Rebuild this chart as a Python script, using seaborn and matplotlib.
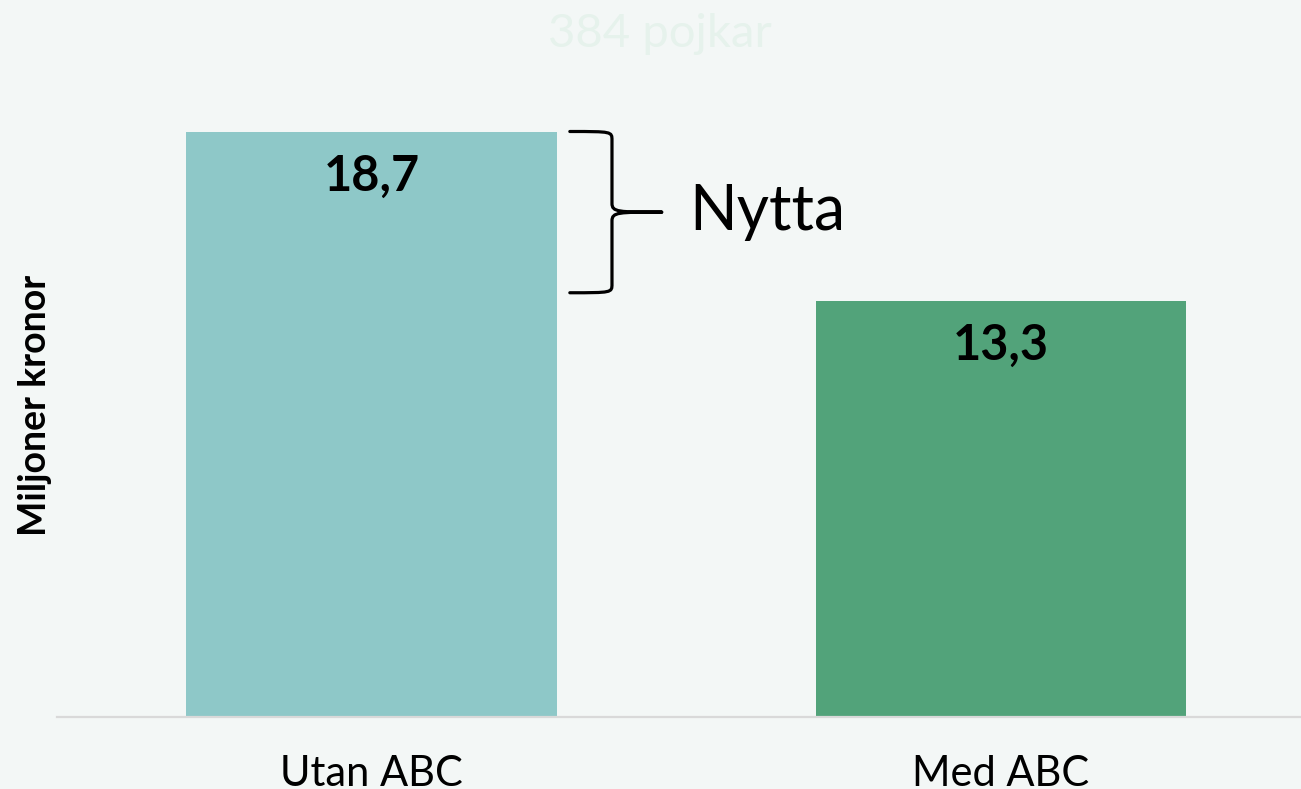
import matplotlib.pyplot as plt
import seaborn as sns
from matplotlib.path import Path
from matplotlib.patches import PathPatch

# data
categories = ['Utan ABC', 'Med ABC']
values = [18.7, 13.3]
value_labels = ['18,7', '13,3']
bar_colors = ['#8ec8c8', '#52a37a']
title_text = '384 pojkar'
brace_text = 'Nytta'
ylabel_text = 'Miljoner kronor'

bg = '#f3f7f6'
sns.set_theme(style='white')
plt.rcParams['font.family'] = ['Lato', 'DejaVu Sans']

fig = plt.figure(figsize=(13.01, 7.89), dpi=100, facecolor=bg)
ax = fig.add_axes([57 / 1301, 72 / 789, 1244 / 1301, 717 / 789])
ax.set_facecolor(bg)

sns.barplot(x=categories, y=values, hue=categories, palette=bar_colors,
            legend=False, width=0.589, saturation=1, linewidth=0, ax=ax)

ax.set_xlim(-0.5, 1.477)
ax.set_ylim(0, 22.9)
ax.set_yticks([])
ax.set_ylabel('')
for s in ['top', 'right', 'left']:
    ax.spines[s].set_visible(False)
ax.spines['bottom'].set_color('#d9d9d9')
ax.spines['bottom'].set_linewidth(1.6)
ax.tick_params(axis='x', length=0, pad=27, labelsize=30, labelcolor='black')

# value labels inside bars
for i, (v, lab) in enumerate(zip(values, value_labels)):
    ax.annotate(lab, xy=(i, v), xytext=(0, -43), textcoords='offset points',
                ha='center', va='baseline', fontsize=35, fontweight='bold',
                color='black')

# brace between the two bar heights
top = values[0]
bot = values[1] + 0.25
mid = (top + bot) / 2
x0, xm, xt = 0.315, 0.382, 0.461
r = 0.28
verts = [(x0, top), (xm, top), (xm, top), (xm, top - r),
         (xm, mid + r),
         (xm, mid), (xm + 0.01, mid), (xt, mid),
         (xm + 0.01, mid), (xm, mid), (xm, mid - r),
         (xm, bot + r),
         (xm, bot), (xm, bot), (x0, bot)]
codes = [Path.MOVETO, Path.CURVE4, Path.CURVE4, Path.CURVE4,
         Path.LINETO,
         Path.CURVE4, Path.CURVE4, Path.CURVE4,
         Path.CURVE4, Path.CURVE4, Path.CURVE4,
         Path.LINETO,
         Path.CURVE4, Path.CURVE4, Path.CURVE4]
ax.add_patch(PathPatch(Path(verts, codes), fill=False, lw=2.3,
                       edgecolor='black', capstyle='round', joinstyle='round',
                       clip_on=False))
ax.text(0.504, mid, brace_text, fontsize=45, color='black',
        va='center', ha='left')

# title (very faint) and y label
fig.text(660 / 1301, 1 - 47 / 789, title_text, ha='center', va='baseline',
         fontsize=34, color='#e6f2ec')
fig.text(35 / 1301, 1 - 405 / 789, ylabel_text, rotation=90, ha='center',
         va='center', fontsize=27, fontweight='bold', color='black')

plt.savefig('out.png', dpi=100, facecolor=bg)
